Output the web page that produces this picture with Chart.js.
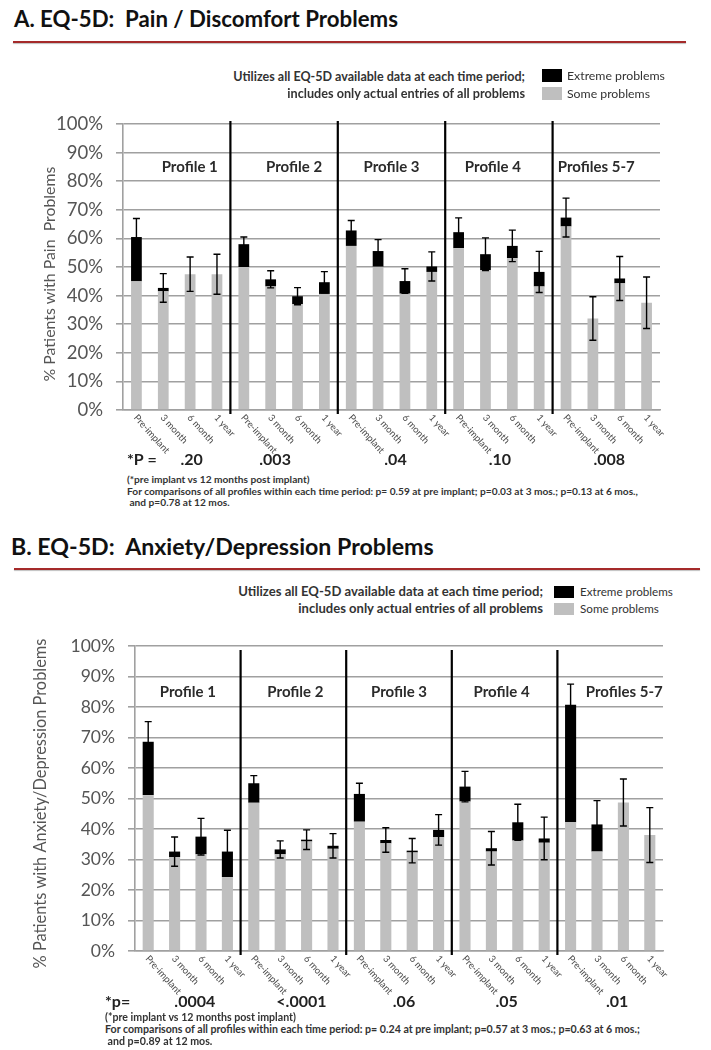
<!DOCTYPE html>
<html><head><meta charset="utf-8">
<script src="https://cdn.jsdelivr.net/npm/chart.js@4.4.1/dist/chart.umd.min.js"></script>
<style>
html,body{margin:0;padding:0;background:#fff;}
body{width:711px;height:1050px;position:relative;overflow:hidden;font-family:Lato,"Open Sans",sans-serif;}
.t{position:absolute;white-space:pre;line-height:1;}
.rule{position:absolute;height:2px;background:#a52a2a;box-shadow:0 1px 1px rgba(0,0,0,0.25);}
.box{position:absolute;}
canvas{position:absolute;left:0;}
</style></head><body>
<canvas id="chartA" width="711" height="372" style="top:100px"></canvas>
<canvas id="chartB" width="711" height="392" style="top:620px"></canvas>
<script>
// ---------------- data ----------------
const timeLabels = ['Pre-implant', '3 month', '6 month', '1 year'];
const profiles = ['Profile 1', 'Profile 2', 'Profile 3', 'Profile 4', 'Profiles 5-7'];
const yTickLabels = ['0%','10%','20%','30%','40%','50%','60%','70%','80%','90%','100%'];

// Panel A: Pain / Discomfort (% patients)
const painSome    = [45, 41.5, 47.5, 47.5, 50, 43.2, 37, 40.6, 57.4, 50.1, 40.7, 48.3, 56.6, 48.9, 53.1, 43.2, 64.2, 32, 44.3, 37.5];
const painExtreme = [15.5, 1.2, 0, 0, 8, 2.5, 2.8, 4.1, 5.4, 5.5, 4.4, 1.9, 5.6, 5.6, 4.3, 5.1, 3.1, 0, 1.7, 0];
const painError   = [6.5, 5, 6, 7, 2.5, 3, 3, 3.7, 3.5, 4, 4.3, 5.1, 5, 5.7, 5.5, 7.2, 6.8, 7.6, 7.7, 9];
const painP = ['.20', '.003', '.04', '.10', '.008'];

// Panel B: Anxiety / Depression (% patients)
const anxSome    = [51.1, 30.8, 31.7, 24.2, 48.6, 31.7, 35.9, 33.5, 42.4, 35.3, 32.3, 37.3, 49, 32.6, 36.2, 35.5, 42.2, 32.6, 48.7, 38];
const anxExtreme = [17.5, 1.8, 5.8, 8.4, 6.4, 1.6, 0.6, 1, 9.1, 1.1, 0.6, 2.4, 4.9, 1.1, 6, 1.4, 38.5, 8.9, 0, 0];
const anxError   = [6.6, 4.8, 6, 7, 2.5, 2.8, 3.2, 4, 3.5, 4, 4, 5, 5, 5.5, 5.9, 7, 6.8, 7.8, 7.7, 9];
const anxP = ['.0004', '<.0001', '.06', '.05', '.01'];

const categories = profiles.flatMap(() => timeLabels);

// ---------------- html text helpers ----------------
function txt(s, o) {
  const d = document.createElement('div');
  d.className = 't';
  d.textContent = s;
  d.style.fontSize = (o.size || 10) + 'px';
  d.style.fontWeight = o.weight || 'normal';
  d.style.color = o.color || '#222';
  document.body.appendChild(d);
  if (o.fit) {
    const w = d.getBoundingClientRect().width;
    d.style.fontSize = ((o.size || 10) * o.fit / w) + 'px';
  }
  const r = d.getBoundingClientRect();
  d.style.top = (o.cy - r.height / 2) + 'px';
  if (o.right !== undefined) d.style.left = (o.right - r.width) + 'px';
  else d.style.left = o.x + 'px';
  return d;
}
function rule(x1, x2, y) {
  const d = document.createElement('div'); d.className = 'rule';
  d.style.left = x1 + 'px'; d.style.width = (x2 - x1) + 'px'; d.style.top = (y - 1) + 'px';
  document.body.appendChild(d);
}
function box(x, y, w, h, c) {
  const d = document.createElement('div'); d.className = 'box';
  Object.assign(d.style, {left: x + 'px', top: y + 'px', width: w + 'px', height: h + 'px', background: c});
  document.body.appendChild(d);
}

// headers
txt('A. EQ-5D:  Pain / Discomfort Problems', {x: 14, cy: 19, size: 20, weight: 'bold', fit: 384, color: '#111'});
rule(13, 686, 42);
txt('Utilizes all EQ-5D available data at each time period;', {right: 525, cy: 77, size: 10, weight: 'bold', fit: 292, color: '#333'});
txt('includes only actual entries of all problems', {right: 525, cy: 93, size: 10, weight: 'bold', fit: 238, color: '#333'});
box(542, 69, 20, 13, '#000'); box(542, 87, 20, 13, '#bfbfbf');
txt('Extreme problems', {x: 567, cy: 76, size: 11, fit: 98, color: '#333'});
txt('Some problems', {x: 567, cy: 94, size: 11, fit: 83, color: '#333'});

txt('B. EQ-5D:  Anxiety/Depression Problems', {x: 11, cy: 547, size: 20, weight: 'bold', fit: 423, color: '#111'});
rule(14, 700, 569);
txt('Utilizes all EQ-5D available data at each time period;', {right: 543, cy: 592, size: 10, weight: 'bold', fit: 305, color: '#333'});
txt('includes only actual entries of all problems', {right: 543, cy: 609, size: 10, weight: 'bold', fit: 245, color: '#333'});
box(554, 586, 20, 12, '#000'); box(554, 603, 20, 12, '#bfbfbf');
txt('Extreme problems', {x: 580, cy: 592, size: 11, fit: 93, color: '#333'});
txt('Some problems', {x: 580, cy: 609, size: 11, fit: 79, color: '#333'});

// footnotes
const fA = txt('For comparisons of all profiles within each time period: p= 0.59 at pre implant; p=0.03 at 3 mos.; p=0.13 at 6 mos.,', {x: 127, cy: 491, size: 9, weight: 'bold', fit: 512, color: '#333'});
const fsA = parseFloat(fA.style.fontSize);
txt('(*pre implant vs 12 months post implant)', {x: 127, cy: 479, size: fsA, weight: 'bold', color: '#333'});
txt(' and p=0.78 at 12 mos.', {x: 127, cy: 502, size: fsA, weight: 'bold', color: '#333'});
const fB = txt('For comparisons of all profiles within each time period: p= 0.24 at pre implant; p=0.57 at 3 mos.; p=0.63 at 6 mos.;', {x: 105, cy: 1029, size: 9, weight: 'bold', fit: 536, color: '#333'});
const fsB = parseFloat(fB.style.fontSize);
txt('(*pre implant vs 12 months post implant)', {x: 105, cy: 1017, size: fsB, weight: 'bold', color: '#333'});
txt(' and p=0.89 at 12 mos.', {x: 105, cy: 1041, size: fsB, weight: 'bold', color: '#333'});

// ---------------- chart plugin ----------------
function fitFont(ctx, s, target, weight) {
  ctx.font = weight + ' 20px Lato';
  return 20 * target / ctx.measureText(s).width;
}
const overlay = {
  id: 'overlay',
  afterDatasetsDraw(chart, args, o) {
    const {ctx, chartArea: a, scales: {x, y}} = chart;
    ctx.save();
    // error bars
    ctx.strokeStyle = '#000'; ctx.lineWidth = 1.4;
    o.err.forEach((e, i) => {
      const t = o.some[i] + o.extreme[i];
      const px = x.getPixelForValue(i);
      const y1 = y.getPixelForValue(t + e), y2 = y.getPixelForValue(t - e);
      ctx.beginPath();
      ctx.moveTo(px, y1); ctx.lineTo(px, y2);
      ctx.moveTo(px - 3.5, y1); ctx.lineTo(px + 3.5, y1);
      ctx.moveTo(px - 3.5, y2); ctx.lineTo(px + 3.5, y2);
      ctx.stroke();
    });
    // separators
    ctx.lineWidth = 2.2;
    for (let g = 1; g < profiles.length; g++) {
      const sx = (x.getPixelForValue(g * 4 - 1) + x.getPixelForValue(g * 4)) / 2;
      ctx.beginPath(); ctx.moveTo(sx, a.top + o.sepTop); ctx.lineTo(sx, a.bottom + 4); ctx.stroke();
    }
    // profile labels
    ctx.fillStyle = '#2b2b2b'; ctx.font = 'bold ' + o.groupSize + 'px Lato';
    ctx.textAlign = 'center'; ctx.textBaseline = 'middle';
    profiles.forEach((g, k) => {
      const cx = (x.getPixelForValue(k * 4) + x.getPixelForValue(k * 4 + 3)) / 2;
      ctx.fillText(g, cx + o.groupNudge[k], y.getPixelForValue(85));
    });
    // rotated category labels
    ctx.fillStyle = '#4a4a4a'; ctx.font = '9.5px Lato'; ctx.textAlign = 'left';
    categories.forEach((c, i) => {
      const px = x.getPixelForValue(i);
      ctx.save();
      ctx.translate(px - 1, a.bottom + 6);
      ctx.rotate(48 * Math.PI / 180);
      ctx.fillText(c, 0, 0);
      ctx.restore();
    });
    // p-values
    ctx.fillStyle = '#222'; ctx.font = 'bold ' + o.pSize + 'px Lato';
    ctx.textAlign = 'left';
    ctx.fillText(o.pLabel, o.pLabelX, a.bottom + o.pDy);
    ctx.textAlign = 'center';
    o.p.forEach((p, k) => {
      const cx = (x.getPixelForValue(k * 4) + x.getPixelForValue(k * 4 + 3)) / 2;
      ctx.fillText(p, cx + o.pNudge[k], a.bottom + o.pDy);
    });
    // y axis title
    const fs = fitFont(ctx, o.yTitle, o.yTitleLen, 'normal');
    ctx.font = fs + 'px Lato'; ctx.fillStyle = '#555';
    ctx.translate(o.yTitleX, (a.top + a.bottom) / 2 + o.yTitleDy);
    ctx.rotate(-Math.PI / 2);
    ctx.fillText(o.yTitle, 0, 0);
    ctx.restore();
  }
};

function makeChart(id, some, extreme, err, cfg) {
  return new Chart(document.getElementById(id), {
    type: 'bar',
    data: {
      labels: categories,
      datasets: [
        {label: 'Some problems', data: some, backgroundColor: '#bfbfbf', categoryPercentage: 1, barPercentage: cfg.barPct},
        {label: 'Extreme problems', data: extreme, backgroundColor: '#000000', categoryPercentage: 1, barPercentage: cfg.barPct}
      ]
    },
    options: {
      responsive: false, animation: false, devicePixelRatio: 1,
      layout: {padding: {top: cfg.padTop, right: cfg.padRight, left: 0, bottom: 0}},
      plugins: {legend: {display: false}, tooltip: {enabled: false},
        overlay: Object.assign({some, extreme, err}, cfg.overlay)},
      scales: {
        x: {stacked: true, grid: {display: false}, ticks: {display: false},
            border: {display: true, color: '#a0a0a0', width: 1.6},
            afterFit: s => { s.height = cfg.xHeight; }},
        y: {stacked: true, min: 0, max: 100,
            ticks: {stepSize: 10, color: '#555', font: {family: 'Lato', size: cfg.tickSize}, padding: cfg.tickPad,
                    callback: v => yTickLabels[Math.round(v / 10)]},
            grid: {color: '#a0a0a0', lineWidth: 1.6, tickLength: 7, tickColor: '#a0a0a0'},
            border: {display: true, color: '#a0a0a0', width: 1.6},
            afterFit: s => { s.width = cfg.yWidth; }}
      }
    },
    plugins: [overlay]
  });
}

makeChart('chartA', painSome, painExtreme, painError, {
  barPct: 0.4, padTop: 17, padRight: 51, xHeight: 62, yWidth: 123, tickSize: 18.5, tickPad: 13,
  overlay: {sepTop: -3, groupSize: 15, groupNudge: [13, 10, 0, -6, -10],
    p: painP, pLabel: '*P =', pLabelX: 127, pDy: 50, pSize: 16, pNudge: [15, -9, 4, 1, 3],
    yTitle: '% Patients with Pain  Problems', yTitleLen: 215, yTitleX: 50, yTitleDy: 7}
});
makeChart('chartB', anxSome, anxExtreme, anxError, {
  barPct: 0.42, padTop: 26, padRight: 48, xHeight: 61, yWidth: 135, tickSize: 17.5, tickPad: 13,
  overlay: {sepTop: 4, groupSize: 15, groupNudge: [0, 2, 0, -3, 14],
    p: anxP, pLabel: '*p=', pLabelX: 105, pDy: 51, pSize: 16, pNudge: [7, 8, 5, 2, 7],
    yTitle: '% Patients with Anxiety/Depression Problems', yTitleLen: 330, yTitleX: 41, yTitleDy: 5}
});
</script>
</body></html>
